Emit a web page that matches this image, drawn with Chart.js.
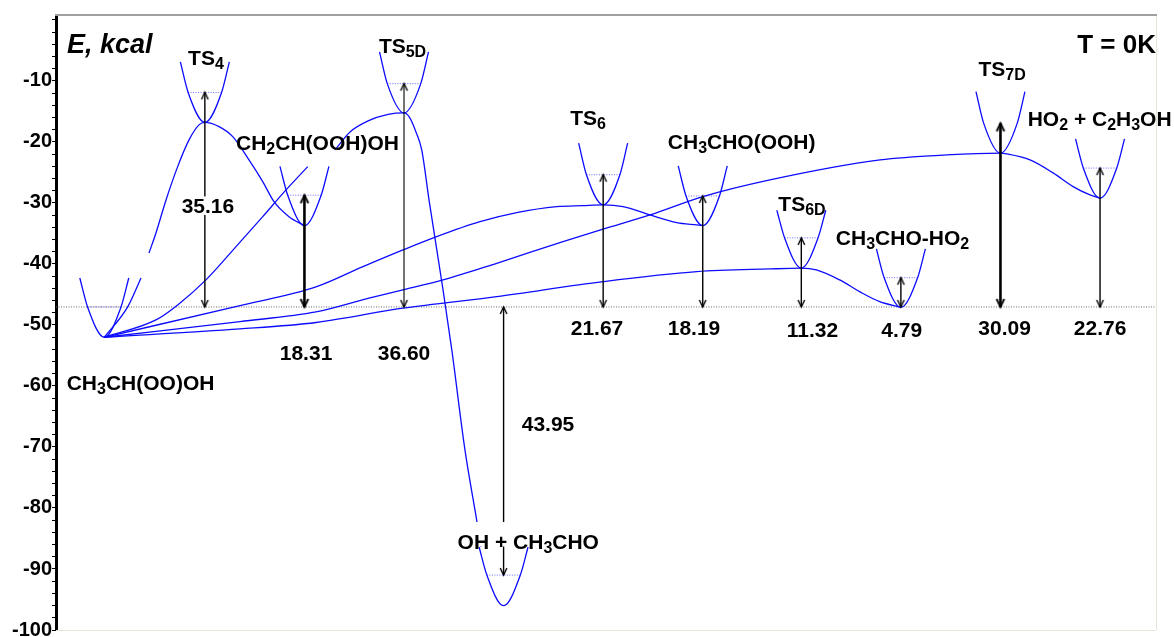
<!DOCTYPE html>
<html>
<head>
<meta charset="utf-8">
<script src="https://cdn.jsdelivr.net/npm/chart.js@4"></script>
<style>
  html, body { margin: 0; padding: 0; background: #fff; }
  #wrap { width: 1174px; height: 637px; }
</style>
</head>
<body>
<div id="wrap"><canvas id="pes"></canvas></div>
<script>
// energies in kcal, x is the reaction coordinate (one species every ~100 units)
const E0 = -47.05; // zero-point level of CH3CH(OO)OH, every number is measured from it

const species = ['CH_{3}CH(OO)OH', 'TS_{4}', 'CH_{2}CH(OOH)OH', 'TS_{5D}', 'OH + CH_{3}CHO', 'TS_{6}',
  'CH_{3}CHO(OOH)', 'TS_{6D}', 'CH_{3}CHO-HO_{2}', 'TS_{7D}', 'HO_{2} + C_{2}H_{3}OH'];
const speciesX = [0, 101, 201, 301, 401, 501, 601, 700, 800, 900, 1000];
const wellMin = [-52.02, -16.80, -33.72, -15.25, -96.02, -30.33, -33.72, -40.70, -47.10, -21.85, -29.23];
const wellTop = [-42.3, -6.89, -24.0, -5.25, -86.39, -20.21, -23.93, -31.2, -37.54, -11.75, -19.51];
const relE = [0, 35.16, 18.31, 36.60, -43.95, 21.67, 18.19, 11.32, 4.79, 30.09, 22.76];

// reaction paths, [x, E]; null = break in the drawn line
const reactantArm = [[0, -52.02], [23.5, -47.05], [36.9, -42.3]];
const pathTS4 = [[44.9, -38.2], [51.9, -34.92], [62, -29.51], [73.7, -24.05], [85.1, -19.67], [95.1, -17.21],
  [101, -16.80], [115.2, -17.49], [129, -19.13], [145.3, -22.95], [159.1, -26.51], [170.4, -29.79],
  [185.5, -32.25], [201, -33.72]];
const pathTS5D = [[0, -52.02], [51.9, -49.18], [73.7, -46.72], [102.1, -42.62], [132.3, -37.16], [159.1, -32.25],
  [182.5, -27.87], [204.3, -24.05], null, [231.7, -21.31], [246.8, -18.36], [264.9, -16.56], [285, -15.49],
  [301, -15.25], [306.2, -15.90], [313, -18.36], [318.8, -21.31], [326.1, -29.51], [340.2, -44.26],
  [349, -54.10], [362.2, -70.49], [374.3, -82.30], [378.3, -86.39]];
const pathTS6 = [[0, -52.02], [136.3, -46.82], [212.6, -43.77], [259.8, -40.44], [300, -37.7],
  [333.8, -35.52], [377.3, -33.07], [414.2, -31.59], [454.3, -30.61], [480.7, -30.44], [501, -30.33],
  [520.9, -30.61], [548, -31.97], [574.9, -33.23], [595, -33.61], [601, -33.72]];
const pathTS7D = [[0, -52.02], [136.3, -49.44], [212.6, -47.87], [266.8, -45.57], [300, -44.26],
  [340.2, -42.62], [394.1, -39.89], [460.7, -36.34], [500.8, -34.31], [548, -31.97], [601.2, -28.97],
  [668.5, -26.23], [779.1, -22.95], [846.3, -22.13], [900, -21.85], [906.3, -21.97], [929.7, -22.95],
  [952.8, -25.08], [972.9, -27.33], [989.9, -28.69], [1000, -29.23]];
const pathTS6D = [[0, -52.02], [136.3, -50.66], [212.6, -49.6], [300, -47.26], [394.1, -45.36], [500.8, -42.90],
  [595, -41.26], [668.5, -40.82], [700, -40.70], [715.1, -40.98], [738.5, -42.62], [758.6, -44.54],
  [778.7, -46.18], [800, -47.10]];

// label placement (x, E of the text baseline)
const namePos = [[36.4, -60.66], [102.1, -7.38], [214.1, -21.31], [299.5, -5.41], [425.8, -86.72], [485.8, -17.21],
  [640.1, -21.15], [700.7, -31.31], [801.6, -36.89], [901.6, -9.26], [999.6, -17.38]];
const valuePos = [null, [104.1, -31.64], [202.6, -55.74], [301, -55.74], [445.6, -67.38], [494.8, -51.64],
  [592.2, -51.64], [711.2, -51.97], [800.8, -51.97], [904.1, -51.72], [1000.1, -51.72]];

const FONT = '"Liberation Sans", Arial, sans-serif';
const BLUE = '#0c0cff';
const armHalf = 24.6, zpeHalf = 16.8;

function arrowHead(hw, len, lw) {
  const c = document.createElement('canvas');
  c.width = Math.ceil(2 * hw + 4);
  c.height = Math.ceil(2 * len + 4);
  const g = c.getContext('2d');
  const cx = c.width / 2, cy = c.height / 2;
  g.strokeStyle = '#000';
  g.fillStyle = '#000';
  g.lineWidth = lw;
  g.lineJoin = 'miter';
  g.beginPath();
  g.moveTo(cx - hw, cy + len);
  g.lineTo(cx, cy);
  g.lineTo(cx + hw, cy + len);
  g.stroke();
  return c;
}
const headThin = arrowHead(3.3, 7, 1.4);
const headThick = arrowHead(3.8, 8, 1.9);

const pts = arr => arr.map(p => ({ x: p[0], y: p[1] }));

function curve(arr) {
  return { data: pts(arr), showLine: true, borderColor: BLUE, borderWidth: 1.3,
    cubicInterpolationMode: 'monotone', pointRadius: 0, order: 1 };
}
function dotted(arr, color) {
  return { data: pts(arr), showLine: true, borderColor: color, borderWidth: 1,
    borderDash: [1, 1.5], pointRadius: 0, order: 2 };
}
function splitAtNull(arr) {
  const out = [[]];
  arr.forEach(p => { if (p === null) out.push([]); else out[out.length - 1].push(p); });
  return out;
}

const datasets = [];

// reference level
datasets.push(dotted([[-48.5, E0], [1056.2, E0]], '#6a6a6a'));

species.forEach((name, i) => {
  const x = speciesX[i], zpe = E0 + relE[i];
  datasets.push(curve([[x - armHalf, wellTop[i]], [x - zpeHalf, zpe], [x, wellMin[i]],
    [x + zpeHalf, zpe], [x + armHalf, wellTop[i]]]));
  if (name !== 'TS_{7D}') datasets.push(dotted([[x - zpeHalf, zpe], [x + zpeHalf, zpe]], '#6a6aff'));
  if (i === 0) return;
  const thick = name === 'CH_{2}CH(OOH)OH' || name === 'TS_{7D}';
  datasets.push({
    data: pts([[x, E0], [x, zpe]]), showLine: true,
    borderColor: '#000', borderWidth: thick ? 2.6 : (name === 'TS_{5D}' ? 1.1 : 1.4),
    pointStyle: thick ? headThick : headThin, pointRadius: 1, pointHoverRadius: 1,
    pointRotation: relE[i] > 0 ? [180, 0] : [0, 180], order: 0
  });
});

datasets.push(curve(reactantArm));
[pathTS4, pathTS5D, pathTS6, pathTS7D, pathTS6D].forEach(p => {
  splitAtNull(p).forEach(seg => datasets.push(curve(seg)));
});

const labels = [
  { text: 'E, kcal', x: -37.5, y: -5.41, align: 'left', size: 27, italic: true },
  { text: 'T = 0K', x: 1056.2, y: -5.41, align: 'right', size: 26 }
];
species.forEach((name, i) => {
  labels.push({ text: name, x: namePos[i][0], y: namePos[i][1], align: 'center', size: 21,
    bg: name === 'OH + CH_{3}CHO' ? [-27, -2.5] : null });
  if (valuePos[i]) {
    labels.push({ text: Math.abs(relE[i]).toFixed(2), x: valuePos[i][0], y: valuePos[i][1],
      align: 'center', size: 21, bg: i === 1 ? [-16.5, 2] : null });
  }
});

function parseRich(s) {
  const parts = [];
  const re = /_\{([^}]*)\}/g;
  let last = 0, m;
  while ((m = re.exec(s))) {
    if (m.index > last) parts.push([s.slice(last, m.index), false]);
    parts.push([m[1], true]);
    last = re.lastIndex;
  }
  if (last < s.length) parts.push([s.slice(last), false]);
  return parts;
}

const labelPlugin = {
  id: 'labels',
  afterDatasetsDraw(chart) {
    const { ctx, scales: { x, y } } = chart;
    ctx.save();
    labels.forEach(l => {
      const parts = parseRich(l.text);
      const main = (l.italic ? 'italic ' : '') + 'bold ' + l.size + 'px ' + FONT;
      const sub = 'bold 16px ' + FONT;
      let w = 0;
      parts.forEach(p => { ctx.font = p[1] ? sub : main; w += ctx.measureText(p[0]).width; });
      let px = x.getPixelForValue(l.x);
      const py = y.getPixelForValue(l.y);
      if (l.align === 'center') px -= w / 2;
      else if (l.align === 'right') px -= w;
      if (l.bg) {
        ctx.fillStyle = '#fff';
        ctx.fillRect(px - 1, py + l.bg[0], w + 2, l.bg[1] - l.bg[0]);
      }
      ctx.fillStyle = '#000';
      ctx.textAlign = 'left';
      ctx.textBaseline = 'alphabetic';
      parts.forEach(p => {
        ctx.font = p[1] ? sub : main;
        ctx.fillText(p[0], px, py + (p[1] ? 4 : 0));
        px += ctx.measureText(p[0]).width;
      });
    });
    ctx.restore();
  }
};

const framePlugin = {
  id: 'frame',
  beforeDatasetsDraw(chart) {
    const { ctx, chartArea: a } = chart;
    ctx.save();
    ctx.strokeStyle = '#e6e3d8';
    ctx.lineWidth = 1;
    ctx.beginPath();
    ctx.moveTo(a.left, a.bottom + 0.5); ctx.lineTo(a.right, a.bottom + 0.5);
    ctx.moveTo(a.right + 0.5, a.top); ctx.lineTo(a.right + 0.5, a.bottom);
    ctx.stroke();
    ctx.strokeStyle = '#a0a0a0';
    ctx.lineWidth = 2;
    ctx.beginPath();
    ctx.moveTo(a.left - 1, a.top); ctx.lineTo(a.right + 1, a.top);
    ctx.stroke();
    ctx.restore();
  }
};

new Chart(document.getElementById('pes'), {
  type: 'scatter',
  data: { datasets },
  options: {
    responsive: true,
    maintainAspectRatio: false,
    animation: false,
    events: [],
    layout: { padding: { left: 0, top: 15, right: 18, bottom: 7 } },
    plugins: { legend: { display: false }, tooltip: { enabled: false } },
    scales: {
      x: { type: 'linear', min: -48.5, max: 1056.2, display: false },
      y: {
        type: 'linear',
        min: -100,
        max: 0.8,
        afterFit: (scale) => {
          scale.width = 56;
          scale.paddingTop = 0;
          scale.paddingBottom = 0;
        },
        border: { display: true, color: '#000', width: 3 },
        grid: { drawOnChartArea: false, drawTicks: true, tickLength: 4, tickColor: '#000', tickWidth: 1 },
        ticks: {
          stepSize: 2,
          autoSkip: false,
          includeBounds: false,
          padding: 0,
          color: '#000',
          font: { family: FONT, size: 20, weight: 'bold' },
          callback: (v) => {
            const r = Math.round(v);
            return (r % 10 === 0 && r !== 0) ? String(r) : '';
          }
        }
      }
    }
  },
  plugins: [framePlugin, labelPlugin]
});
</script>
</body>
</html>
